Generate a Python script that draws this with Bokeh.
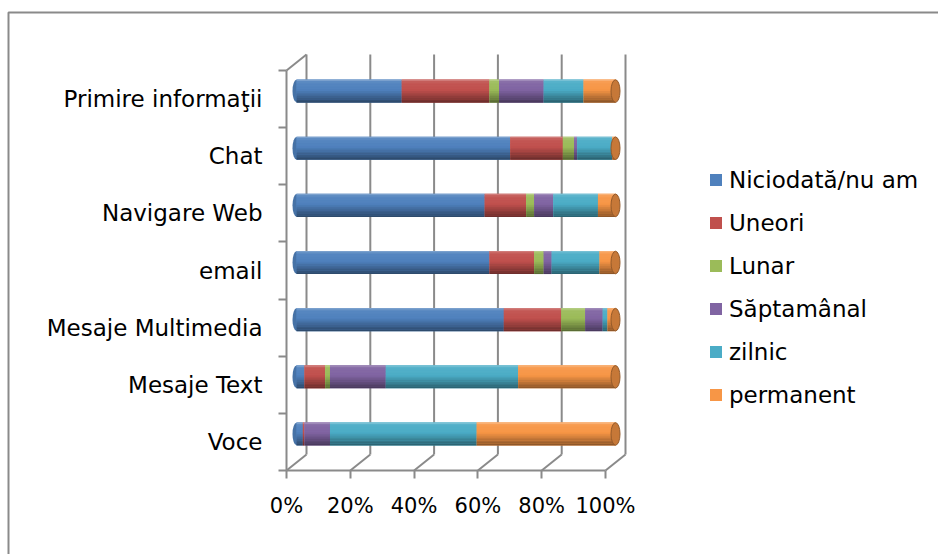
from bokeh.plotting import figure
from bokeh.models import (Range1d, LinearAxis, FixedTicker, Legend, LegendItem,
                          BoxAnnotation)
from bokeh.embed import file_html
from bokeh.resources import INLINE

# ---- data: share of respondents (%) per service and usage frequency ----
categories = ["Primire informaţii", "Chat", "Navigare Web", "email",
              "Mesaje Multimedia", "Mesaje Text", "Voce"]
series_names = ["Niciodată/nu am", "Uneori", "Lunar", "Săptamânal", "zilnic", "permanent"]
niciodata = [33, 67, 59, 60.5, 65, 2.5, 2]
uneori = [27.5, 16.5, 13, 14, 18, 6.5, 0.5]
lunar = [3, 3.5, 2.5, 3, 7.5, 1.5, 0]
saptamanal = [14, 1, 6, 2.5, 5.5, 17.5, 8]
zilnic = [12.5, 11, 14, 15, 1.5, 41.5, 46]
permanent = [10, 1, 5.5, 5, 2.5, 30.5, 43.5]
x_ticks = [0, 20, 40, 60, 80, 100]
x_tick_labels = ["0%", "20%", "40%", "60%", "80%", "100%"]

colors = ["#4F81BD", "#C0504D", "#9BBB59", "#8064A2", "#4BACC6", "#F79646"]
FONT = "DejaVu Sans"
GRID = "#8a8a8a"

# ---- pseudo-3D geometry ----
W, H = 938, 554
ORIGIN_X, ORIGIN_Y = 286, 470   # pixel position of the front 0% / bottom corner
PX_PER_PCT = 3.19
PX_PER_CAT = 400 / 7
DX = 20 / PX_PER_PCT          # depth offset in x (percent units)
DY = 16 / PX_PER_CAT          # depth offset in y (category units)
BH = 23 / PX_PER_CAT          # cylinder thickness

all_series = [niciodata, uneori, lunar, saptamanal, zilnic, permanent]
n = len(categories)

# 100% stacking
totals = [sum(s[i] for s in all_series) for i in range(n)]
shares = [[s[i] * 100.0 / totals[i] for i in range(n)] for s in all_series]
lefts, rights = [], []
acc = [0.0] * n
for s in shares:
    lefts.append(list(acc))
    acc = [a + v for a, v in zip(acc, s)]
    rights.append(list(acc))

y_front = [n - 0.5 - i for i in range(n)]
y_bar = [y + DY / 2 for y in y_front]


def shade(hex_color, f):
    r, g, b = (int(hex_color[i:i + 2], 16) for i in (1, 3, 5))
    if f >= 0:
        r, g, b = (c + (255 - c) * f for c in (r, g, b))
    else:
        r, g, b = (c * (1 + f) for c in (r, g, b))
    return "#%02x%02x%02x" % (int(round(r)), int(round(g)), int(round(b)))


def profile(t):
    # light rim at the top, darker toward the bottom of the cylinder
    if t < 0.12:
        return 0.28 * (1 - t / 0.12) + 0.05
    if t < 0.45:
        return 0.05 - 0.05 * (t - 0.12) / 0.33
    return -0.45 * (t - 0.45) / 0.55


x_lo = -ORIGIN_X / PX_PER_PCT
y_lo = -(H - ORIGIN_Y) / PX_PER_CAT
x_hi = x_lo + W / PX_PER_PCT
y_hi = y_lo + H / PX_PER_CAT
p = figure(width=W, height=H, output_backend="svg", toolbar_location=None,
           x_axis_type=None, y_axis_type=None,
           x_range=Range1d(x_lo, x_hi), y_range=Range1d(y_lo, y_hi),
           min_border=0)
p.outline_line_color = None
p.outline_line_alpha = 0
p.xgrid.visible = False
p.ygrid.visible = False
p.background_fill_color = "white"
p.border_fill_color = "white"

# chart area border: top and left edges (the rest runs past the page)
bx = x_lo + 8 / PX_PER_PCT
by = y_hi - 12 / PX_PER_CAT
p.line(x=[x_hi, bx, bx], y=[by, by, y_lo],
       line_color=GRID, line_width=2)

# back wall gridlines, floor and left wall edges
p.segment(x0=[t + DX for t in x_ticks], y0=[DY] * len(x_ticks),
          x1=[t + DX for t in x_ticks], y1=[n + DY] * len(x_ticks),
          line_color=GRID, line_width=2)
p.segment(x0=x_ticks, y0=[0] * len(x_ticks),
          x1=[t + DX for t in x_ticks], y1=[DY] * len(x_ticks),
          line_color=GRID, line_width=2)
p.segment(x0=[0], y0=[n], x1=[DX], y1=[n + DY], line_color=GRID, line_width=2)

# rounded back end of each cylinder
first_col = []
for i in range(n):
    j = next(k for k in range(len(shares)) if shares[k][i] > 0)
    first_col.append(shade(colors[j], -0.12))
p.ellipse(x=[DX / 2] * n, y=y_bar, width=8 / PX_PER_PCT, height=BH * 0.98,
          fill_color=first_col, line_color=None)

# stacked cylinders: flat base bar plus horizontal shading strips
NSTRIP = 14
legend_items = []
for j, name in enumerate(series_names):
    L = [v + DX / 2 for v in lefts[j]]
    R = [v + DX / 2 for v in rights[j]]
    base = p.hbar(y=y_bar, left=L, right=R, height=BH,
                  fill_color=colors[j], line_color=None)
    for k in range(NSTRIP):
        t = (k + 0.5) / NSTRIP
        yk = [y + BH / 2 - t * BH for y in y_bar]
        p.hbar(y=yk, left=L, right=R, height=BH / NSTRIP * 1.08,
               fill_color=shade(colors[j], profile(t)), line_color=None)
    legend_items.append(LegendItem(label=name, renderers=[base]))

# front end face of each cylinder
last_col = []
for i in range(n):
    j = max(k for k in range(len(shares)) if shares[k][i] > 0)
    last_col.append(colors[j])
p.ellipse(x=[100 + DX / 2] * n, y=y_bar, width=9 / PX_PER_PCT, height=BH * 0.98,
          fill_color=[shade(c, -0.2) for c in last_col],
          line_color=[shade(c, -0.4) for c in last_col], line_width=1)

# value axis along the front floor edge
xaxis = LinearAxis(ticker=FixedTicker(ticks=x_ticks),
                   major_label_overrides={t: lab for t, lab in zip(x_ticks, x_tick_labels)},
                   bounds=(0, 100), fixed_location=0)
xaxis.axis_line_color = GRID
xaxis.axis_line_width = 2
xaxis.major_tick_line_color = GRID
xaxis.major_tick_line_width = 2
xaxis.major_tick_out = 8
xaxis.major_tick_in = 0
xaxis.minor_tick_line_color = None
xaxis.major_label_text_font = FONT
xaxis.major_label_text_font_size = "21px"
xaxis.major_label_text_color = "black"
xaxis.major_label_standoff = 15
p.add_layout(xaxis, "below")

# category axis along the front left edge: labels at centres, ticks at boundaries
yaxis = LinearAxis(ticker=FixedTicker(ticks=y_front, minor_ticks=list(range(n + 1))),
                   major_label_overrides={y: c for y, c in zip(y_front, categories)},
                   bounds=(0, n), fixed_location=0)
yaxis.axis_line_color = GRID
yaxis.axis_line_width = 2
yaxis.major_tick_line_color = None
yaxis.major_tick_out = 0
yaxis.major_tick_in = 0
yaxis.minor_tick_line_color = GRID
yaxis.minor_tick_line_width = 2
yaxis.minor_tick_out = 8
yaxis.minor_tick_in = 0
yaxis.major_label_text_font = FONT
yaxis.major_label_text_font_size = "23px"
yaxis.major_label_text_color = "black"
yaxis.major_label_standoff = 16
p.add_layout(yaxis, "left")

legend = Legend(items=legend_items, location=(708, 138),
                padding=0, spacing=0, margin=0,
                label_height=43, glyph_height=15, glyph_width=15,
                label_standoff=6,
                label_text_font=FONT, label_text_font_size="23px",
                label_text_color="black",
                border_line_color=None, background_fill_alpha=0)
p.add_layout(legend)

# keep the page's right edge clean
p.add_layout(BoxAnnotation(left=x_hi - 4 / PX_PER_PCT, right=x_hi,
                           bottom=y_lo, top=by - 2 / PX_PER_CAT,
                           fill_color="white", fill_alpha=1, line_alpha=0,
                           level="overlay"))

open("out.html", "w").write(file_html(p, INLINE))
